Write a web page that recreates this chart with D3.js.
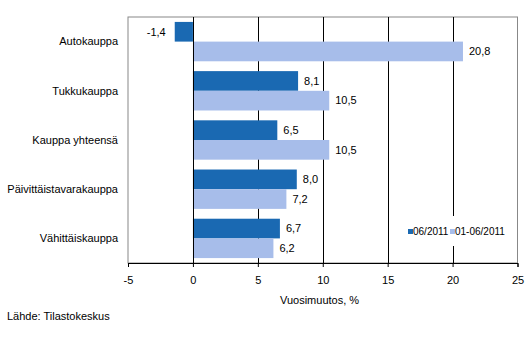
<!DOCTYPE html>
<html><head><meta charset="utf-8">
<script src="https://cdn.jsdelivr.net/npm/d3@7"></script>
<style>
body{margin:0;background:#fff;}
text{font-family:"Liberation Sans",Arial,sans-serif;font-size:11px;fill:#000;}
</style></head>
<body>
<svg id="c" width="532" height="358"></svg>
<script>
const categories = ["Autokauppa","Tukkukauppa","Kauppa yhteensä","Päivittäistavarakauppa","Vähittäiskauppa"];
const seriesNames = ["06/2011","01-06/2011"];
const june2011 = [-1.4, 8.1, 6.5, 8.0, 6.7];
const janJune2011 = [20.8, 10.5, 10.5, 7.2, 6.2];
const xTicks = [-5,0,5,10,15,20,25];
const colors = ["#1a69b2","#a7bdea"];

const svg = d3.select("#c");
const L=128, R=517.5, T=17, B=263;
const x = d3.scaleLinear().domain([-5,25]).range([L,R]);
const y = d3.scaleBand().domain(categories).range([T,B]).paddingInner(0.2).paddingOuter(0.1);
const ys = d3.scaleBand().domain([0,1]).range([0,y.bandwidth()]);
const fmt = v => d3.format(".1f")(v).replace(".",",").replace("\u2212","-");

// plot border
svg.append("rect").attr("x",L).attr("y",T).attr("width",R-L).attr("height",B-T)
  .attr("fill","none").attr("stroke","#888").attr("stroke-width",1);

// gridlines
svg.append("g").selectAll("line").data(xTicks.filter(d=>d>-5&&d<25)).join("line")
  .attr("x1",d=>Math.round(x(d))+0.5).attr("x2",d=>Math.round(x(d))+0.5)
  .attr("y1",T).attr("y2",B).attr("stroke","#000").attr("stroke-width",1);

// bars
const data = [june2011, janJune2011];
data.forEach((vals,si)=>{
  svg.append("g").selectAll("rect").data(vals).join("rect")
    .attr("x",d=>x(Math.min(0,d)))
    .attr("width",d=>Math.abs(x(d)-x(0)))
    .attr("y",(d,i)=>y(categories[i])+ys(si))
    .attr("height",ys.bandwidth())
    .attr("fill",colors[si]);
  svg.append("g").selectAll("text").data(vals).join("text")
    .attr("x",d=> d<0 ? x(d)-9 : x(d)+6)
    .attr("y",(d,i)=>y(categories[i])+ys(si)+ys.bandwidth()/2)
    .attr("dy","0.35em")
    .attr("text-anchor",d=>d<0?"end":"start")
    .text(d=>fmt(d));
});

// zero line on top
svg.append("line").attr("x1",Math.round(x(0))+0.5).attr("x2",Math.round(x(0))+0.5)
  .attr("y1",T).attr("y2",B).attr("stroke","#000");

// x axis
const ax = svg.append("g").attr("transform",`translate(0,${B})`)
  .call(d3.axisBottom(x).tickValues(xTicks).tickSize(4).tickPadding(9).tickFormat(d=>String(d)));
ax.select(".domain").attr("stroke","#000");
ax.selectAll("line").attr("stroke","#000");
ax.selectAll("text").style("font-size","11px").style("font-family","'Liberation Sans',Arial,sans-serif");

// category labels
svg.append("g").selectAll("text").data(categories).join("text")
  .attr("x",118).attr("y",d=>y(d)+y.bandwidth()/2).attr("dy","0.35em")
  .attr("text-anchor","end").text(d=>d);

// legend
const lg = svg.append("g").attr("transform","translate(405,216)");
lg.append("rect").attr("x",0).attr("y",0).attr("width",100).attr("height",30).attr("fill","#fff");
const items = [{x:3,w:32},{x:45,w:50}];
seriesNames.forEach((n,i)=>{
  lg.append("rect").attr("x",items[i].x).attr("y",13).attr("width",5).attr("height",5).attr("fill",colors[i]);
  lg.append("text").attr("x",items[i].x+5).attr("y",15.5).attr("dy","0.35em").style("font-size","10px").text(n);
});

// axis title and source
svg.append("text").attr("x",280).attr("y",300).attr("dy","0.35em").text("Vuosimuutos, %");
svg.append("text").attr("x",7).attr("y",316).attr("dy","0.35em").text("Lähde: Tilastokeskus");
</script>
</body></html>
